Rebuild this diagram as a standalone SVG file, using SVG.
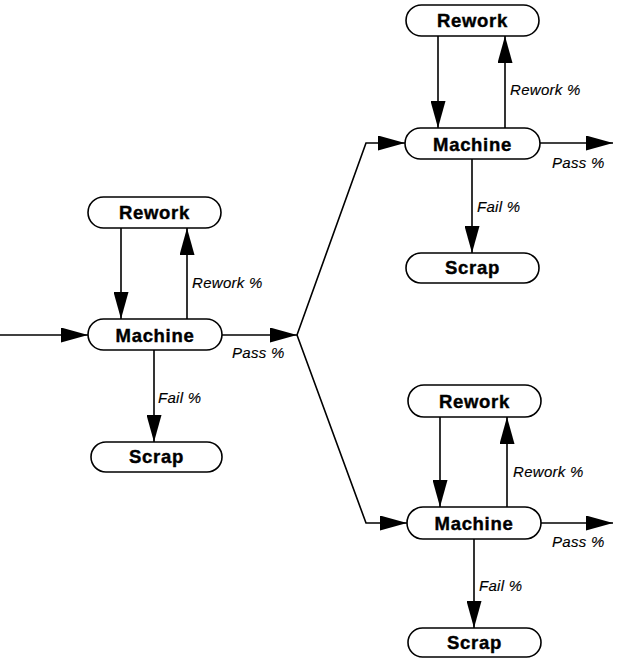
<svg xmlns="http://www.w3.org/2000/svg" width="617" height="659" viewBox="0 0 617 659">
<style>
.box{fill:#fff;stroke:#000;stroke-width:1.6}
.nl{font-family:"Liberation Sans",Arial,sans-serif;font-weight:bold;font-size:18.5px;letter-spacing:0.7px;text-anchor:middle;fill:#000;stroke:#000;stroke-width:0.4}
.el{font-family:"Liberation Sans",Arial,sans-serif;font-style:italic;font-size:15px;letter-spacing:0.3px;fill:#000;stroke:#000;stroke-width:0.15}
.c{fill:none;stroke:#000;stroke-width:1.6}
</style>
<defs>
<marker id="ah" markerUnits="userSpaceOnUse" markerWidth="27" markerHeight="15" refX="27" refY="7.5" orient="auto">
<path d="M0,0 L27,7.5 L0,15 z" fill="#000"/>
</marker>
</defs>
<rect width="617" height="659" fill="#fff"/>
<g id="connectors">
<line class="c" x1="0" y1="335" x2="88" y2="335" marker-end="url(#ah)"/>
<line class="c" x1="121" y1="228" x2="121" y2="319" marker-end="url(#ah)"/>
<line class="c" x1="187" y1="319" x2="187" y2="228" marker-end="url(#ah)"/>
<line class="c" x1="154" y1="350" x2="154" y2="442" marker-end="url(#ah)"/>
<line class="c" x1="222" y1="335" x2="297" y2="335" marker-end="url(#ah)"/>
<polyline class="c" points="297,335 366,143 405,143" marker-end="url(#ah)"/>
<polyline class="c" points="297,335 366,523 407,523" marker-end="url(#ah)"/>
<line class="c" x1="438" y1="36" x2="438" y2="128" marker-end="url(#ah)"/>
<line class="c" x1="505" y1="128" x2="505" y2="36" marker-end="url(#ah)"/>
<line class="c" x1="472" y1="159" x2="472" y2="253" marker-end="url(#ah)"/>
<line class="c" x1="540" y1="143" x2="613" y2="143" marker-end="url(#ah)"/>
<line class="c" x1="440" y1="417" x2="440" y2="507" marker-end="url(#ah)"/>
<line class="c" x1="507" y1="507" x2="507" y2="417" marker-end="url(#ah)"/>
<line class="c" x1="474" y1="539" x2="474" y2="628" marker-end="url(#ah)"/>
<line class="c" x1="541" y1="523" x2="613" y2="523" marker-end="url(#ah)"/>
<text class="el" x="192" y="288">Rework %</text>
<text class="el" x="232" y="358">Pass %</text>
<text class="el" x="158" y="403">Fail %</text>
<text class="el" x="510" y="95">Rework %</text>
<text class="el" x="552" y="168">Pass %</text>
<text class="el" x="477" y="212">Fail %</text>
<text class="el" x="513" y="477">Rework %</text>
<text class="el" x="552" y="547">Pass %</text>
<text class="el" x="479" y="591">Fail %</text>
</g>
<g id="rework-left"><rect class="box" x="88" y="197" width="133" height="31" rx="15.5"/><text class="nl" x="154.5" y="219">Rework</text></g>
<g id="machine-left"><rect class="box" x="88" y="319" width="134" height="31" rx="15.5"/><text class="nl" x="155" y="341.5">Machine</text></g>
<g id="scrap-left"><rect class="box" x="91" y="442" width="131" height="30" rx="15"/><text class="nl" x="156.5" y="463">Scrap</text></g>
<g id="rework-top"><rect class="box" x="406" y="5" width="133" height="31" rx="15.5"/><text class="nl" x="472.5" y="27">Rework</text></g>
<g id="machine-top"><rect class="box" x="405" y="128" width="135" height="31" rx="15.5"/><text class="nl" x="472.5" y="150.5">Machine</text></g>
<g id="scrap-top"><rect class="box" x="406" y="253" width="133" height="30" rx="15"/><text class="nl" x="472.5" y="274">Scrap</text></g>
<g id="rework-bottom"><rect class="box" x="408" y="385" width="133" height="32" rx="16"/><text class="nl" x="474.5" y="408">Rework</text></g>
<g id="machine-bottom"><rect class="box" x="407" y="507" width="134" height="32" rx="16"/><text class="nl" x="474" y="530">Machine</text></g>
<g id="scrap-bottom"><rect class="box" x="408" y="628" width="133" height="29" rx="14.5"/><text class="nl" x="474.5" y="649">Scrap</text></g>
</svg>
